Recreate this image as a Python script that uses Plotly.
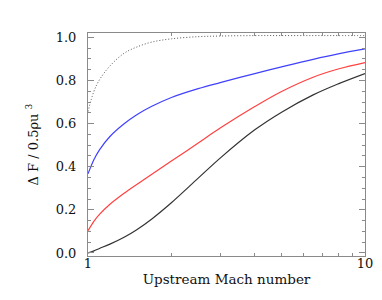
import plotly.graph_objects as go

mach = [1, 1.05, 1.1, 1.2, 1.35, 1.5, 1.7, 2, 2.5, 3, 4, 5, 6.5, 8, 10]
dotted_gray = [0.656, 0.749, 0.803, 0.867, 0.926, 0.955, 0.978, 0.993, 1.003, 1.006, 1.008, 1.008, 1.008, 1.008, 1.008]
blue_curve = [0.367, 0.432, 0.478, 0.540, 0.599, 0.641, 0.680, 0.721, 0.762, 0.790, 0.832, 0.863, 0.898, 0.923, 0.946]
red_curve = [0.103, 0.147, 0.179, 0.226, 0.277, 0.318, 0.365, 0.426, 0.510, 0.579, 0.679, 0.749, 0.815, 0.853, 0.883]
black_curve = [0.0, 0.010, 0.021, 0.041, 0.073, 0.108, 0.158, 0.233, 0.347, 0.440, 0.571, 0.653, 0.733, 0.784, 0.832]

x_ticks = [1, 10]
x_ticktext = ["1", "10"]
x_minor = [2, 3, 4, 5, 6, 7, 8, 9]
y_ticks = [0.0, 0.2, 0.4, 0.6, 0.8, 1.0]

FONT = "DejaVu Serif"
AX = "#8a8a8a"

fig = go.Figure()
fig.add_trace(go.Scatter(x=mach, y=dotted_gray, mode="lines", line=dict(color="#555555", width=1, dash="1px,2px", shape="spline")))
fig.add_trace(go.Scatter(x=mach, y=blue_curve, mode="lines", line=dict(color="#4040ff", width=1.2, shape="spline")))
fig.add_trace(go.Scatter(x=mach, y=red_curve, mode="lines", line=dict(color="#ff4040", width=1.2, shape="spline")))
fig.add_trace(go.Scatter(x=mach, y=black_curve, mode="lines", line=dict(color="#333333", width=1.2, shape="spline")))

fig.update_layout(
    width=382, height=300,
    margin=dict(l=80, r=25, t=25, b=52),
    paper_bgcolor="white", plot_bgcolor="white",
    showlegend=False,
    font=dict(family=FONT, size=13, color="#111111"),
    xaxis=dict(
        type="log", range=[0, 1],
        tickmode="array", tickvals=x_ticks, ticktext=x_ticktext,
        ticks="inside", ticklen=6, tickcolor=AX, tickwidth=1,
        ticklabelstandoff=-5,
        minor=dict(tickmode="array", tickvals=x_minor, ticks="inside", ticklen=3, tickcolor=AX, showgrid=False),
        showline=True, linecolor=AX, linewidth=1, mirror="allticks",
        showgrid=False, zeroline=False,
        title=dict(text="Upstream Mach number", font=dict(family=FONT, size=13.5), standoff=4),
    ),
    yaxis=dict(
        range=[-0.014, 1.02],
        tickmode="array", tickvals=y_ticks, tickformat=".1f",
        ticks="inside", ticklen=6, tickcolor=AX, tickwidth=1,
        ticklabelstandoff=8,
        minor=dict(dtick=0.05, tick0=0, ticks="inside", ticklen=3, tickcolor=AX, showgrid=False),
        showline=True, linecolor=AX, linewidth=1, mirror="allticks",
        showgrid=False, zeroline=False,
        title=dict(text="Δ F / 0.5ρu <sup>3</sup>", font=dict(family=FONT, size=13), standoff=14),
    ),
)

fig.write_html("out.html")
